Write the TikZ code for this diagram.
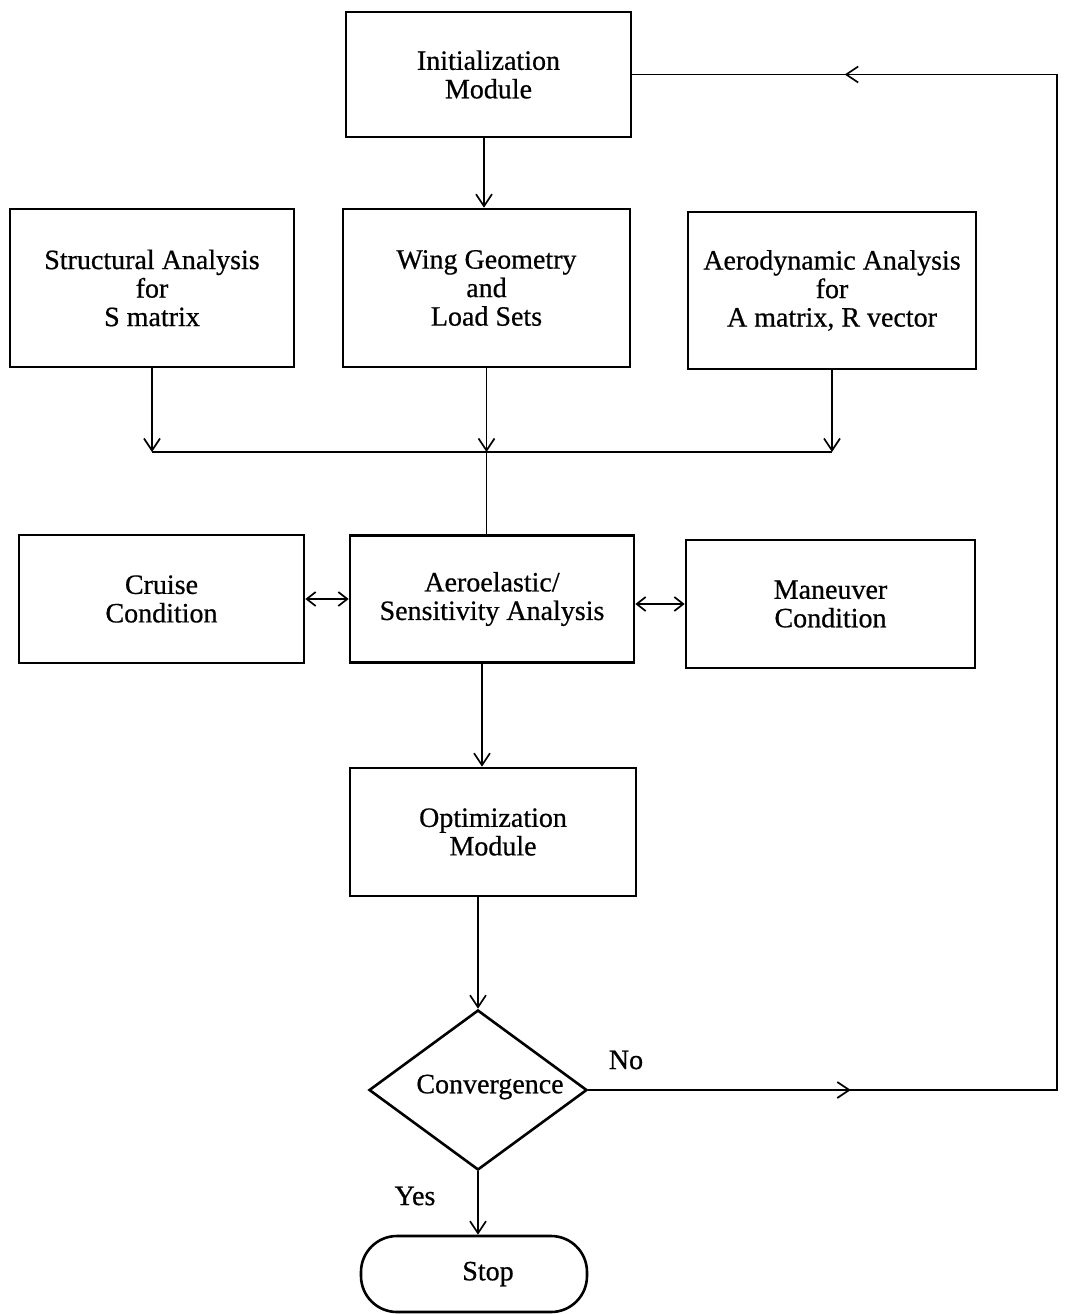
\documentclass[tikz,border=0pt]{standalone}
\usepackage{fontspec}
\setmainfont{Liberation Serif}[FakeBold=0.6]
\usetikzlibrary{arrows.meta,shapes.geometric,calc}
\begin{document}
\begin{tikzpicture}[x=1pt,y=-1pt,
  every node/.style={font=\fontsize{28}{28.5}\selectfont, align=center},
  box/.style={draw, line width=2.6pt, inner sep=0pt},
  conn/.style={line width=1.5pt},
  tip/.style={-{Straight Barb[length=12pt,width=16pt,line width=1.7pt]}},
  bitip/.style={{Straight Barb[length=9pt,width=14pt,line width=1.7pt]}-{Straight Barb[length=9pt,width=14pt,line width=1.7pt]}}]
\useasboundingbox (0,0) rectangle (1066,1314);

% process boxes
\node[box, minimum width=285pt, minimum height=125pt] (init) at (488.5,74.5) {Initialization\\Module};
\node[box, minimum width=284pt, minimum height=158pt] (struct) at (152,288) {Structural Analysis\\for\\S matrix};
\node[box, minimum width=287pt, minimum height=158pt] (wing) at (486.5,288) {Wing Geometry\\and\\Load Sets};
\node[box, minimum width=288pt, minimum height=157pt] (aerod) at (832,290.5) {Aerodynamic Analysis\\for\\A matrix, R vector};
\node[box, minimum width=285pt, minimum height=128pt] (cruise) at (161.5,599) {Cruise\\Condition};
\node[box, minimum width=284pt, minimum height=127pt] (aeroel) at (492,599) {Aeroelastic/\\Sensitivity Analysis};
\node[box, minimum width=289pt, minimum height=128pt] (maneu) at (830.5,604) {Maneuver\\Condition};
\node[box, minimum width=286pt, minimum height=128pt] (optim) at (493,832) {Optimization\\Module};

% decision and terminal
\node[draw, line width=2.6pt, diamond, inner sep=0pt, minimum width=218pt, minimum height=160pt] (conv) at (478,1090) {};
\node (convtext) at (490,1087) {Convergence};
\node[draw, line width=2.6pt, rounded corners=36pt, minimum width=226pt, minimum height=76pt] (stop) at (474,1274) {};
\node (stoptext) at (488,1274) {Stop};

% junction points
\coordinate (jl) at (struct.south |- 0,452);
\coordinate (jm) at (wing.south |- 0,452);
\coordinate (jr) at (aerod.south |- 0,452);
\coordinate (rt) at (1057,0 |- init.east);
\coordinate (rb) at (1057,0 |- conv.east);

% connectors
\draw[conn, tip] (init.south -| 484,0) -- (wing.north -| 484,0);
\draw[conn, tip] (struct.south) -- (jl);
\draw[conn, tip] (wing.south -| jm) -- (jm);
\draw[conn, tip] (aerod.south) -- (jr);
\draw[conn] (jl) -- (jr);
\draw[conn] (jm) -- (aeroel.north -| jm);
\draw[conn, bitip] (cruise.east) -- (aeroel.west |- cruise.east);
\draw[conn, bitip] (aeroel.east |- maneu.west) -- (maneu.west);
\draw[conn, tip] (aeroel.south -| 482,0) -- (optim.north -| 482,0);
\draw[conn, tip] (optim.south -| conv.north) -- (conv.north);
\draw[conn, tip] (conv.south) -- (stop.north -| conv.south);

% feedback loop with mid-line arrowheads
\draw[conn, tip] (conv.east) -- ($(conv.east)!0.56!(rb)$);
\draw[conn] ($(conv.east)!0.5!(rb)$) -- (rb) -- (rt) -- ($(rt)!0.5!(init.east)$);
\draw[conn, tip] ($(rt)!0.4!(init.east)$) -- ($(rt)!0.5!(init.east)$);
\draw[conn] ($(rt)!0.5!(init.east)$) -- (init.east);

% branch labels
\node (no) at (626,1060) {No};
\node (yes) at (415,1196) {Yes};
\end{tikzpicture}
\end{document}
